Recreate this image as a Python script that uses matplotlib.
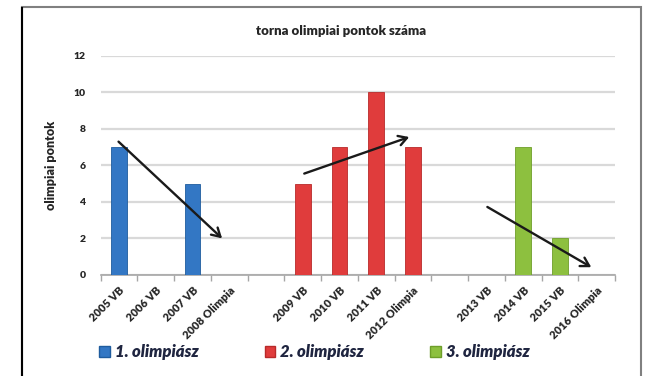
import matplotlib
matplotlib.use("Agg")
import matplotlib.pyplot as plt
from matplotlib.patches import Rectangle, Patch
import numpy as np

# categories (empty strings are the gaps between the olympic cycles)
categories = ['2005 VB', '2006 VB', '2007 VB', '2008 Olimpia', '',
              '2009 VB', '2010 VB', '2011 VB', '2012 Olimpia', '',
              '2013 VB', '2014 VB', '2015 VB', '2016 Olimpia']

series_names = ['1. olimpiász', '2. olimpiász', '3. olimpiász']
series_pos = [[0, 1, 2, 3], [5, 6, 7, 8], [10, 11, 12, 13]]
series_vals = [[7, 0, 5, 0], [5, 7, 10, 7], [0, 7, 2, 0]]
series_colors = ['#3377C4', '#E03C3C', '#8DC03F']
edge_colors = ['#1F5C9E', '#B82A2A', '#6E9E2A']

# trend arrows (start x, start y, end x, end y) in data units
trend_arrows = [(-0.07, 7.4, 2.86, 1.9),
                (4.97, 5.5, 7.97, 7.6),
                (9.96, 3.8, 12.92, 0.35)]

fnt = 'Lato'
W, H = 645, 376
fig = plt.figure(figsize=(W / 100, H / 100), dpi=100)

# outer frame like the pasted excel chart
fig.patches.append(Rectangle((22 / W, -0.05), (641 - 22) / W, 1.05 - 7.5 / H,
                             transform=fig.transFigure, fill=False,
                             edgecolor='#808080', lw=1.5))
fig.lines.append(plt.Line2D([22 / W, 22 / W], [0, 1 - 7.5 / H],
                            transform=fig.transFigure, color='black', lw=1.5))

ax = fig.add_axes([100.7 / W, 1 - 275 / H, (615 - 100.7) / W, (275 - 55.7) / H])

for pos, vals, c, ec, name in zip(series_pos, series_vals, series_colors,
                                   edge_colors, series_names):
    ax.bar(pos, vals, width=0.43, color=c, edgecolor=ec, linewidth=0.6,
           label=name, zorder=3)

for x0, y0, x1, y1 in trend_arrows:
    ax.annotate('', xy=(x1, y1), xytext=(x0, y0),
                arrowprops=dict(arrowstyle='->,head_length=0.6,head_width=0.35',
                                color='#1a1a1a', lw=1.7), zorder=5)

ax.set_xlim(-0.5, len(categories) - 0.5)
ax.set_ylim(0, 12)
ax.set_yticks(np.arange(0, 13, 2))
ax.yaxis.grid(True, color='#D9D9D9', lw=1.6, zorder=0)
ax.set_axisbelow(True)

ax.set_xticks(np.arange(len(categories)))
ax.set_xticklabels(categories, rotation=45, ha='right', rotation_mode='anchor',
                   fontsize=8, fontweight='heavy', family=fnt, color='#262626')
ax.set_xticks(np.arange(-0.5, len(categories), 1), minor=True)
ax.tick_params(axis='x', which='major', length=0, pad=7)
ax.tick_params(axis='x', which='minor', length=4, color='#A6A6A6', width=1)
ax.tick_params(axis='y', length=0, pad=11)
for lab in ax.get_yticklabels():
    lab.set_fontsize(7.5)
    lab.set_fontweight('heavy')
    lab.set_family(fnt)
    lab.set_color('#262626')

for s in ['top', 'right', 'left']:
    ax.spines[s].set_visible(False)
ax.spines['bottom'].set_color('#A6A6A6')
ax.spines['bottom'].set_linewidth(1.2)

ax.set_ylabel('olimpiai pontok', fontsize=9, fontweight='heavy', family=fnt,
              color='#262626', labelpad=12)

fig.text(341 / W, 1 - 31 / H, 'torna olimpiai pontok száma', ha='center',
         va='center', fontsize=9.5, fontweight='heavy', family=fnt, color='#262626')

handles = [Patch(facecolor=c, edgecolor=ec) for c, ec in zip(series_colors, edge_colors)]
fig.legend(handles, series_names, loc='center left',
           bbox_to_anchor=(84 / W, 1 - 352 / H), ncol=3, frameon=False,
           handlelength=0.65, handleheight=0.65, handletextpad=0.3,
           columnspacing=3.95,
           prop=dict(family=fnt, weight='heavy', style='italic', size=12))
for t in fig.legends[0].get_texts():
    t.set_color('#1F2540')

fig.savefig('out.png', dpi=100)
